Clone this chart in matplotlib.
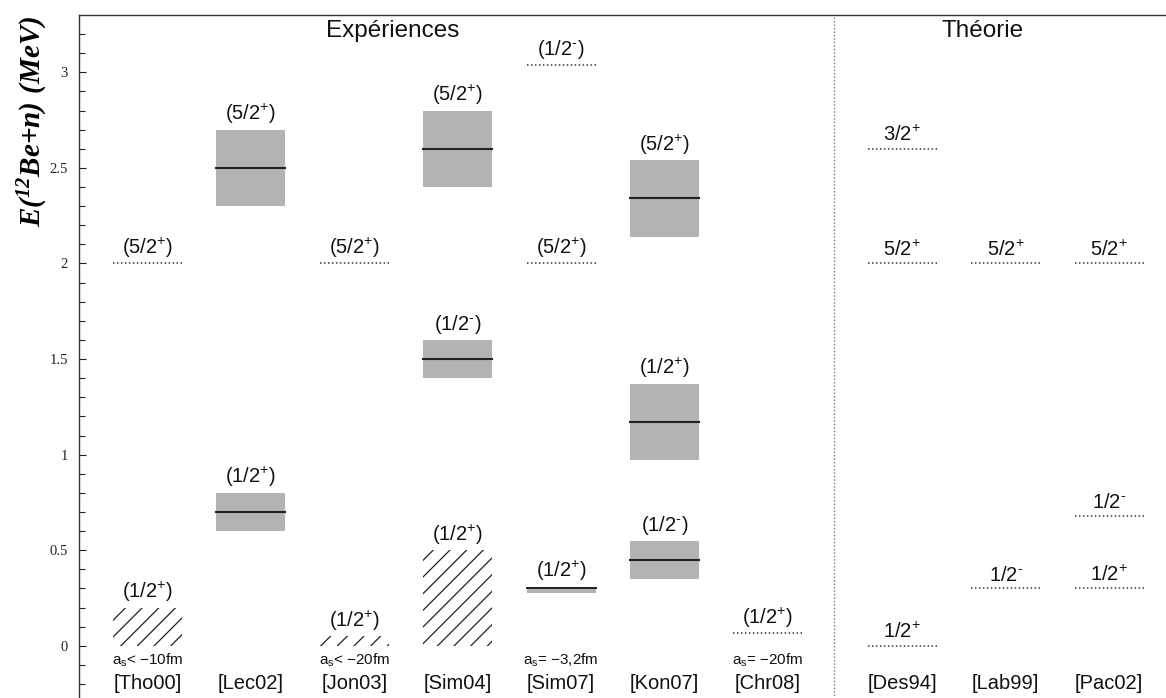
import matplotlib
matplotlib.use("Agg")
import matplotlib.pyplot as plt
from matplotlib.patches import Rectangle

plt.rcParams['font.family'] = ['Liberation Sans', 'DejaVu Sans']
plt.rcParams['mathtext.fontset'] = 'custom'
plt.rcParams['mathtext.rm'] = 'Liberation Sans'
plt.rcParams['mathtext.it'] = 'Liberation Sans:italic'
plt.rcParams['mathtext.bf'] = 'Liberation Serif:bold:italic'
plt.rcParams['hatch.linewidth'] = 0.9

# ---------------- data ----------------
exp_refs = ['[Tho00]', '[Lec02]', '[Jon03]', '[Sim04]', '[Sim07]', '[Kon07]', '[Chr08]']
theo_refs = ['[Des94]', '[Lab99]', '[Pac02]']

P = '$^{+}$'
M = '$^{\\text{-}}$'

# boxes with central value: (reference, low, high, centre, label)
box_ref = ['[Lec02]', '[Lec02]', '[Sim04]', '[Sim04]', '[Kon07]', '[Kon07]', '[Kon07]']
box_low = [2.30, 0.60, 2.40, 1.40, 2.14, 0.97, 0.35]
box_high = [2.70, 0.80, 2.80, 1.60, 2.54, 1.37, 0.55]
box_mid = [2.50, 0.70, 2.60, 1.50, 2.34, 1.17, 0.45]
box_lab = ['(5/2' + P + ')', '(1/2' + P + ')', '(5/2' + P + ')', '(1/2' + M + ')',
           '(5/2' + P + ')', '(1/2' + P + ')', '(1/2' + M + ')']

# hatched regions (virtual states): (reference, low, high, label)
hatch_ref = ['[Tho00]', '[Jon03]', '[Sim04]']
hatch_low = [0.0, 0.0, 0.0]
hatch_high = [0.20, 0.05, 0.50]
hatch_lab = ['(1/2' + P + ')', '(1/2' + P + ')', '(1/2' + P + ')']

# thin measured level (Sim07)
thin_ref = ['[Sim07]']
thin_val = [0.30]
thin_lab = ['(1/2' + P + ')']

# dotted levels: (reference, energy, label)
dot_ref = ['[Tho00]', '[Jon03]', '[Sim07]', '[Sim07]', '[Chr08]',
           '[Des94]', '[Des94]', '[Des94]', '[Lab99]', '[Lab99]', '[Pac02]', '[Pac02]', '[Pac02]']
dot_val = [2.00, 2.00, 3.04, 2.00, 0.065,
           2.60, 2.00, 0.00, 2.00, 0.30, 2.00, 0.68, 0.30]
dot_lab = ['(5/2' + P + ')', '(5/2' + P + ')', '(1/2' + M + ')', '(5/2' + P + ')', '(1/2' + P + ')',
           '3/2' + P, '5/2' + P, '1/2' + P, '5/2' + P, '1/2' + M, '5/2' + P, '1/2' + M, '1/2' + P]

# scattering-length notes
note_ref = ['[Tho00]', '[Jon03]', '[Sim07]', '[Chr08]']
note_txt = ['a$_\\mathrm{s}$< \u221210fm', 'a$_\\mathrm{s}$< \u221220fm',
            'a$_\\mathrm{s}$= \u22123,2fm', 'a$_\\mathrm{s}$= \u221220fm']

yticks = [0, 0.5, 1, 1.5, 2, 2.5, 3]
ytick_labels = ['0', '0.5', '1', '1.5', '2', '2.5', '3']

# ---------------- layout ----------------
xpos = {r: i + 1 for i, r in enumerate(exp_refs)}
xpos.update({r: 8.3 + i for i, r in enumerate(theo_refs)})
half = 0.333
sep_x = 7.64

fig = plt.figure(figsize=(11.66, 6.98), dpi=100)
ax = fig.add_axes([79 / 1166, -0.0073, 1 - 79 / 1166, 0.9858])
ax.set_xlim(0.3375, 10.85)
ax.set_ylim(-0.3, 3.3)

gray = '#b3b3b3'
dark = '#222222'
lab_fs = 14.5

def put_label(x, y, txt):
    ax.annotate(txt, (x, y), xytext=(0, 2.5), textcoords='offset points',
                ha='center', va='bottom', fontsize=lab_fs, color='#111111')

for r, lo, hi, mid, lab in zip(box_ref, box_low, box_high, box_mid, box_lab):
    x = xpos[r]
    ax.add_patch(Rectangle((x - half, lo), 2 * half, hi - lo, facecolor=gray, edgecolor='none'))
    ax.plot([x - half, x + half], [mid, mid], color=dark, lw=1.5)
    put_label(x, hi, lab)

for r, lo, hi, lab in zip(hatch_ref, hatch_low, hatch_high, hatch_lab):
    x = xpos[r]
    ax.add_patch(Rectangle((x - half, lo), 2 * half, hi - lo, facecolor='none',
                           edgecolor='#222222', linewidth=0, hatch='//'))
    put_label(x, hi, lab)

for r, v, lab in zip(thin_ref, thin_val, thin_lab):
    x = xpos[r]
    ax.add_patch(Rectangle((x - half, v - 0.022), 2 * half, 0.024, facecolor=gray, edgecolor='none'))
    ax.plot([x - half, x + half], [v + 0.003, v + 0.003], color=dark, lw=1.4)
    put_label(x, v + 0.01, lab)

for r, v, lab in zip(dot_ref, dot_val, dot_lab):
    x = xpos[r]
    ax.plot([x - half, x + half], [v, v], color='#333333', lw=1.1, ls=(0, (1, 1.6)))
    put_label(x, v, lab)

for r, t in zip(note_ref, note_txt):
    ax.text(xpos[r], -0.075, t, ha='center', va='center', fontsize=11, color='#111111')

for r in exp_refs + theo_refs:
    ax.text(xpos[r], -0.195, r, ha='center', va='center', fontsize=14.5, color='#111111')

ax.axvline(sep_x, color='#777777', lw=1, ls=(0, (1, 1.5)))

ax.text(3.37, 3.215, 'Expériences', ha='center', va='center', fontsize=17.5, color='#111111')
ax.text(9.08, 3.215, 'Théorie', ha='center', va='center', fontsize=17.5, color='#111111')

# axes styling
ax.set_xticks([])
ax.set_yticks(yticks)
ax.set_yticklabels(ytick_labels, fontfamily='Liberation Serif', fontsize=10.5)
ax.set_yticks([i / 10 for i in range(-2, 33)], minor=True)
ax.tick_params(axis='y', which='major', direction='in', length=5, width=0.8, pad=8, colors='#222222')
ax.tick_params(axis='y', which='minor', direction='in', length=4, width=0.8, colors='#222222')
ax.spines['right'].set_visible(False)
for s in ['left', 'top', 'bottom']:
    ax.spines[s].set_linewidth(1.0)
    ax.spines[s].set_color('#333333')

ax.set_ylabel(r'$\mathbf{E(^{12}Be{+}n)\ (MeV)}$', fontsize=21)
ax.yaxis.set_label_coords(-0.042, 0.845)
ax.yaxis.label.set_verticalalignment('center')

fig.savefig('out.png', dpi=100)
